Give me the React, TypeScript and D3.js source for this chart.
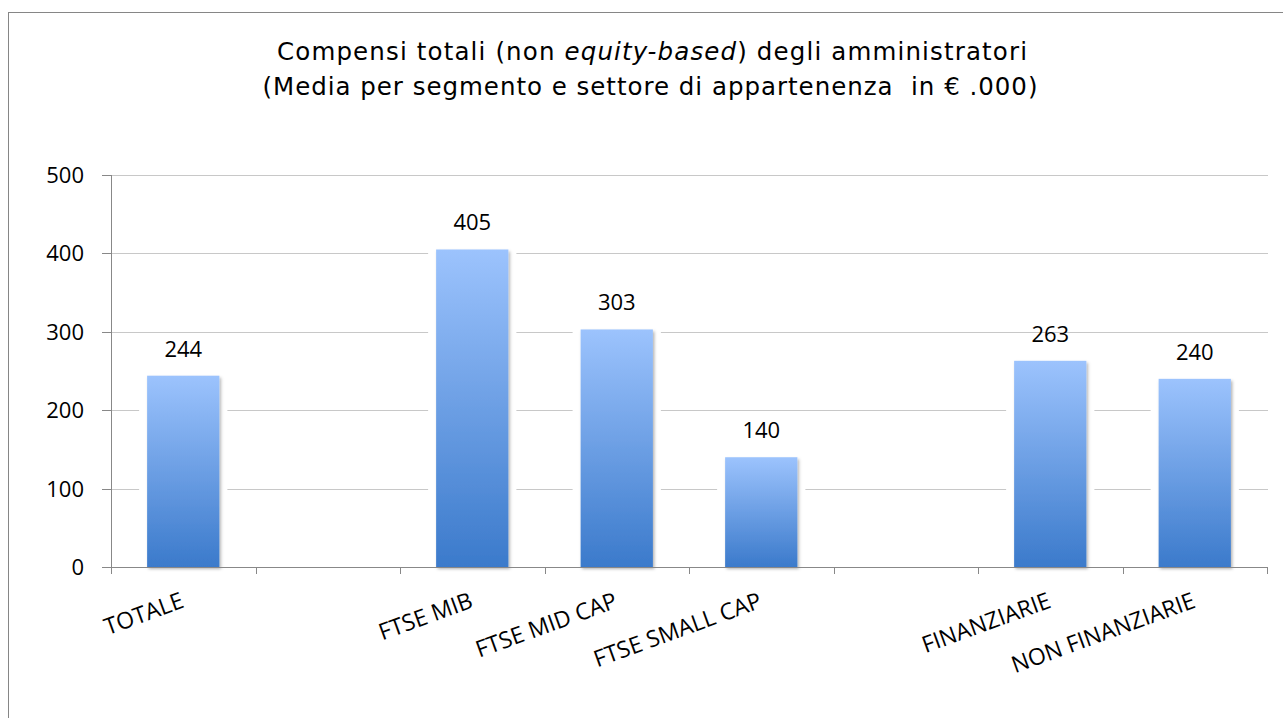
import React from 'react';
import * as d3 from 'd3';

const categories = ["TOTALE", "", "FTSE MIB", "FTSE MID CAP", "FTSE SMALL CAP", "", "FINANZIARIE", "NON FINANZIARIE"];
const values: (number | null)[] = [244, null, 405, 303, 140, null, 263, 240];
const yTicks = [0, 100, 200, 300, 400, 500];

const W = 1283;
const H = 718;
const left = 111;
const right = 1267;
const top = 175;
const bottom = 567;

const labelFont = "'Open Sans', 'Noto Sans', sans-serif";
const titleFont = "'DejaVu Sans', Verdana, sans-serif";

const App = () => {
  const x = d3.scaleBand<number>()
    .domain(d3.range(categories.length))
    .range([left, right])
    .paddingInner(0.5)
    .paddingOuter(0.25);
  const step = x.step();
  const y = d3.scaleLinear().domain([0, 500]).range([bottom, top]);

  const bounds = d3.range(categories.length + 1).map(i => left + i * step);
  const bars = values
    .map((v, i) => ({ v, i }))
    .filter(d => d.v !== null) as { v: number; i: number }[];

  return (
    <svg width={W} height={H} style={{ position: 'absolute', left: 0, top: 0, background: '#fff' }}>
      <defs>
        <linearGradient id="barGrad" x1="0" y1="0" x2="0" y2="1">
          <stop offset="0%" stopColor="#9cc3fd" />
          <stop offset="100%" stopColor="#3b7acb" />
        </linearGradient>
        <filter id="shadow" x="-20%" y="-5%" width="150%" height="115%">
          <feDropShadow dx="1.5" dy="2" stdDeviation="1.5" floodColor="#000" floodOpacity="0.3" />
        </filter>
      </defs>

      <rect x={8.5} y={12.5} width={1300} height={720} fill="#fff" stroke="#868686" strokeWidth={1} />

      <text x={652} y={60} textAnchor="middle" fontFamily={titleFont} fontSize={24.5} fill="#000"
        textLength={750} lengthAdjust="spacing">
        Compensi totali (non <tspan fontStyle="italic">equity-based</tspan>) degli amministratori
      </text>
      <text x={650} y={95} textAnchor="middle" fontFamily={titleFont} fontSize={24.5} fill="#000"
        textLength={775} lengthAdjust="spacing" xmlSpace="preserve">
        (Media per segmento e settore di appartenenza  in € .000)
      </text>

      {/* gridlines */}
      {yTicks.filter(t => t > 0).map(t => (
        <line key={t} x1={left} x2={right + 1} y1={Math.round(y(t)) + 0.5} y2={Math.round(y(t)) + 0.5} stroke="#c8c8c8" strokeWidth={1} />
      ))}

      {/* white halo behind bars breaks the gridlines */}
      {bars.map(d => (
        <rect key={'h' + d.i} x={x(d.i)! - 8} y={y(d.v) - 6} width={x.bandwidth() + 16} height={bottom - y(d.v) + 5} fill="#fff" />
      ))}

      {/* y axis */}
      <line x1={left + 0.5} x2={left + 0.5} y1={top} y2={bottom + 7} stroke="#888" />
      {yTicks.map(t => (
        <g key={t}>
          <line x1={left - 9} x2={left} y1={Math.round(y(t)) + 0.5} y2={Math.round(y(t)) + 0.5} stroke="#888" />
          <text x={84} y={y(t) + 8} textAnchor="end" fontFamily={labelFont} fontSize={22} fill="#000">{t}</text>
        </g>
      ))}

      {/* bars */}
      {bars.map(d => (
        <rect key={'b' + d.i} x={x(d.i)!} y={y(d.v)} width={x.bandwidth()} height={bottom - y(d.v)} fill="url(#barGrad)" filter="url(#shadow)" />
      ))}

      {/* x axis */}
      <line x1={left} x2={right + 1} y1={bottom + 0.5} y2={bottom + 0.5} stroke="#888" />
      {bounds.map((b, i) => (
        <line key={i} x1={Math.round(b) + 0.5} x2={Math.round(b) + 0.5} y1={bottom} y2={bottom + 7} stroke="#888" />
      ))}

      {/* value labels */}
      {bars.map(d => (
        <text key={'v' + d.i} x={x(d.i)! + x.bandwidth() / 2} y={y(d.v) - 19} textAnchor="middle" fontFamily={labelFont} fontSize={22} fill="#000">
          {d.v}
        </text>
      ))}

      {/* category labels */}
      {categories.map((c, i) => c ? (
        <text key={'c' + i}
          transform={`translate(${x(i)! + x.bandwidth() / 2 + 2},${607}) rotate(-20)`}
          textAnchor="end" fontFamily={labelFont} fontSize={23} fill="#000">
          {c}
        </text>
      ) : null)}
    </svg>
  );
};

export default App;
